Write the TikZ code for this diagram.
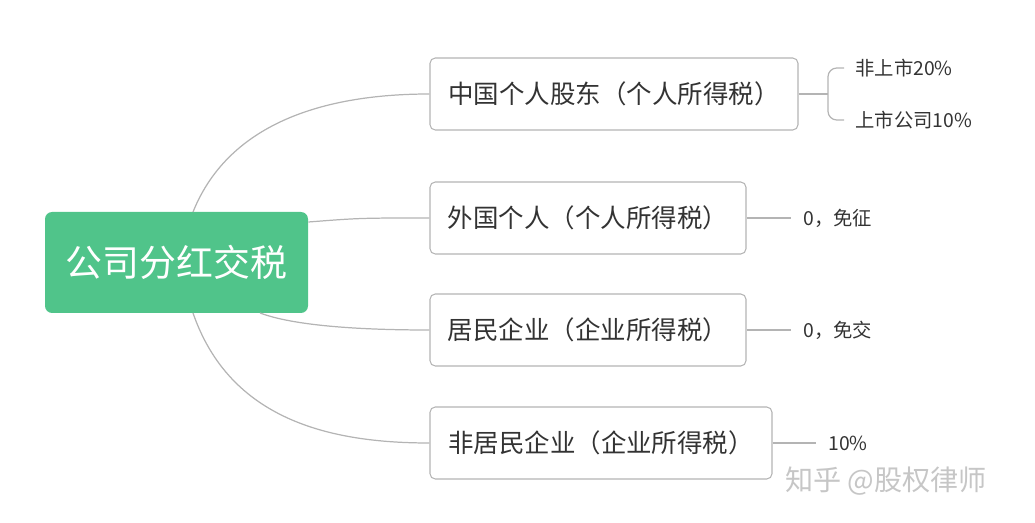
\documentclass[tikz,border=0pt]{standalone}
\usepackage{fontspec}
\setmainfont{Noto Sans CJK SC}
\usepackage{xcolor}
\definecolor{rootgreen}{HTML}{50C48A}
\definecolor{edgegray}{HTML}{B4B4B4}
\definecolor{txtgray}{HTML}{333333}
\tikzset{
  branch/.style={draw=edgegray, rounded corners=3pt, line width=0.6pt, text=txtgray,
    font=\fontsize{14.5}{16}\selectfont, inner sep=0pt},
  leaf/.style={text=txtgray, font=\fontsize{11}{12}\selectfont, anchor=west, inner sep=0pt},
  link/.style={draw=edgegray, line width=0.7pt},
}
\begin{document}
\begin{tikzpicture}[x=0.02cm, y=-0.02cm]
  \useasboundingbox (0,0) rectangle (1035,523);

  % root
  \node[fill=rootgreen, rounded corners=4pt, text=white, font=\fontsize{21}{24}\selectfont,
    minimum width=263*0.02cm, minimum height=101*0.02cm, inner sep=0pt] (tax) at (176.5,262.5) {公司分红交税};

  % branches
  \node[branch, minimum width=368*0.02cm, minimum height=72*0.02cm] (cnp) at (614,94) {中国个人股东（个人所得税）};
  \node[branch, minimum width=316*0.02cm, minimum height=72*0.02cm] (fgp) at (588,218) {外国个人（个人所得税）};
  \node[branch, minimum width=316*0.02cm, minimum height=72*0.02cm] (rco) at (588,330) {居民企业（企业所得税）};
  \node[branch, minimum width=342*0.02cm, minimum height=72*0.02cm] (nrc) at (601,443) {非居民企业（企业所得税）};

  % root connectors
  \draw[link] (193,212) .. controls (230,120) and (330,94) .. (cnp.west);
  \draw[link] (tax.east |- 0,222) .. controls (360,218) .. (fgp.west);
  \draw[link] (260,313) .. controls (300,328) and (380,330) .. (rco.west);
  \draw[link] (193,313) .. controls (230,420) and (330,443) .. (nrc.west);

  % leaves
  \coordinate (cnpfork) at (828,94);
  \draw[link] (cnp.east) -- (cnpfork);
  \draw[link, rounded corners=5pt] (844,68) -- (828,68) -- (828,120) -- (844,120);
  \node[leaf] (unl) at (855,68) {非上市20\%};
  \node[leaf] (lst) at (855,120) {上市公司10\%};

  \draw[link] (fgp.east) -- ++(44,0) coordinate (fgpend);
  \node[leaf] (fgpleaf) at (803,218) {0，免征};
  \draw[link] (rco.east) -- ++(44,0) coordinate (rcoend);
  \node[leaf] (rcoleaf) at (803,330) {0，免交};
  \draw[link] (nrc.east) -- ++(43,0) coordinate (nrcend);
  \node[leaf] (nrcleaf) at (828,443) {10\%};

  % watermark
  \node[text=gray!45, font=\fontsize{16}{18}\selectfont, anchor=west, inner sep=0pt] (mark) at (785,481) {知乎 @股权律师};
\end{tikzpicture}
\end{document}
